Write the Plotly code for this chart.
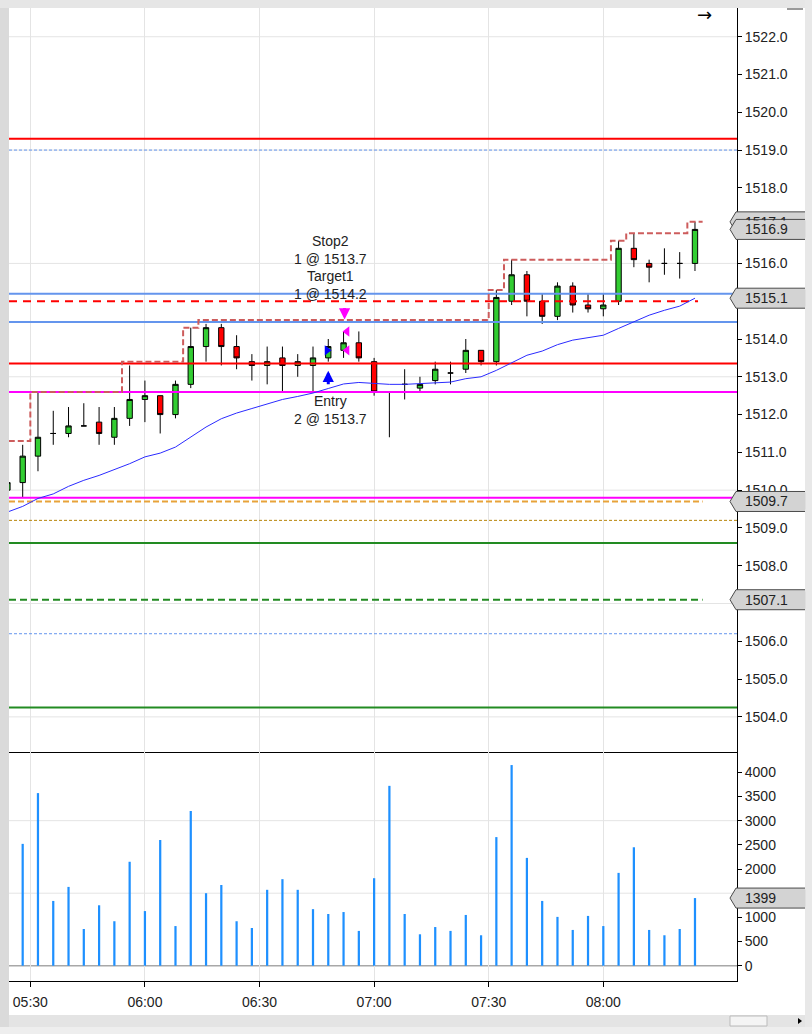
import plotly.graph_objects as go
from plotly.subplots import make_subplots
import pandas as pd

DAY = "2013-01-02 "

# ---------------- data ----------------
bar_times = ["05:24", "05:28", "05:32", "05:36", "05:40", "05:44", "05:48", "05:52", "05:56",
             "06:00", "06:04", "06:08", "06:12", "06:16", "06:20", "06:24", "06:28", "06:32",
             "06:36", "06:40", "06:44", "06:48", "06:52", "06:56", "07:00", "07:04", "07:08",
             "07:12", "07:16", "07:20", "07:24", "07:28", "07:32", "07:36", "07:40", "07:44",
             "07:48", "07:52", "07:56", "08:00", "08:04", "08:08", "08:12", "08:16", "08:20",
             "08:24"]
opens = [1510.0, 1510.2, 1510.9, 1511.5, 1511.5, 1511.7, 1511.8, 1511.4, 1511.9,
         1512.4, 1512.5, 1512.0, 1512.8, 1513.8, 1514.3, 1513.8, 1513.4, 1513.3,
         1513.5, 1513.3, 1513.3, 1513.5, 1513.7, 1513.9, 1513.4, 1512.6, 1512.8,
         1512.7, 1512.9, 1513.1, 1513.2, 1513.7, 1513.4, 1515.0, 1515.7, 1515.0,
         1514.6, 1515.4, 1514.9, 1514.8, 1515.0, 1516.4, 1516.0, 1516.0, 1516.0,
         1516.0]
highs = [1510.3, 1511.2, 1512.6, 1512.1, 1512.2, 1512.3, 1512.2, 1512.2, 1513.3,
         1512.9, 1512.5, 1512.9, 1514.3, 1514.4, 1514.4, 1514.1, 1513.6, 1513.8,
         1513.8, 1513.6, 1513.8, 1514.0, 1514.2, 1514.2, 1513.5, 1512.6, 1513.2,
         1513.0, 1513.4, 1513.4, 1514.0, 1513.7, 1515.3, 1516.1, 1515.8, 1515.2,
         1515.5, 1515.5, 1515.2, 1515.2, 1516.6, 1516.8, 1516.1, 1516.4, 1516.3,
         1517.1]
lows = [1509.8, 1509.8, 1510.5, 1511.2, 1511.4, 1511.7, 1511.2, 1511.2, 1511.7,
        1511.8, 1511.5, 1511.9, 1512.7, 1513.4, 1513.3, 1513.2, 1512.9, 1512.8,
        1512.6, 1513.0, 1512.6, 1513.4, 1513.5, 1513.4, 1512.5, 1511.4, 1512.4,
        1512.6, 1512.8, 1512.8, 1513.1, 1513.3, 1513.3, 1514.9, 1514.6, 1514.4,
        1514.5, 1514.7, 1514.7, 1514.6, 1514.9, 1515.9, 1515.5, 1515.7, 1515.6,
        1515.8]
closes = [1510.2, 1510.9, 1511.4, 1511.5, 1511.7, 1511.7, 1511.5, 1511.9, 1512.4,
          1512.5, 1512.0, 1512.8, 1513.8, 1514.3, 1513.8, 1513.5, 1513.3, 1513.4,
          1513.3, 1513.4, 1513.5, 1513.8, 1513.9, 1513.5, 1512.6, 1512.6, 1512.8,
          1512.8, 1513.2, 1513.1, 1513.7, 1513.4, 1515.1, 1515.7, 1515.0, 1514.6,
          1515.4, 1514.9, 1514.8, 1514.9, 1516.4, 1516.1, 1515.9, 1516.0, 1516.0,
          1516.9]
volumes = [1500, 2520, 3570, 1340, 1630, 760, 1250, 920, 2150,
           1130, 2600, 820, 3200, 1500, 1670, 920, 780, 1570,
           1790, 1570, 1170, 1070, 1110, 720, 1810, 3720, 1070,
           650, 800, 720, 1050, 630, 2660, 4150, 2230, 1340,
           1010, 740, 1030, 820, 1920, 2450, 740, 630, 760,
           1399]
moving_avg = [1509.42, 1509.57, 1509.78, 1509.90, 1510.10, 1510.26, 1510.39, 1510.54, 1510.70,
              1510.88, 1510.98, 1511.14, 1511.40, 1511.67, 1511.89, 1512.04, 1512.16, 1512.29,
              1512.40, 1512.48, 1512.57, 1512.69, 1512.81, 1512.85, 1512.82, 1512.80, 1512.80,
              1512.82, 1512.84, 1512.86, 1512.95, 1513.00, 1513.17, 1513.38, 1513.57, 1513.68,
              1513.85, 1513.97, 1514.04, 1514.10, 1514.28, 1514.45, 1514.63, 1514.76, 1514.87,
              1515.08]
step_high = [1511.3, 1511.3, 1512.6, 1512.6, 1512.6, 1512.6, 1512.6, 1512.6, 1513.4,
             1513.4, 1513.4, 1513.4, 1514.3, 1514.5, 1514.5, 1514.5, 1514.5, 1514.5,
             1514.5, 1514.5, 1514.5, 1514.5, 1514.5, 1514.5, 1514.5, 1514.5, 1514.5,
             1514.5, 1514.5, 1514.5, 1514.5, 1514.5, 1515.3, 1516.1, 1516.1, 1516.1,
             1516.1, 1516.1, 1516.1, 1516.1, 1516.6, 1516.8, 1516.8, 1516.8, 1516.8,
             1517.1]

# horizontal levels
red_levels = [1519.3, 1513.35]
blue_levels = [1515.2, 1514.45]
magenta_levels = [1512.6, 1509.8]
green_levels = [1508.6, 1504.25]
blue_dotted_levels = [1519.0, 1506.2]
gold_dotted_level = 1509.2
red_dashed_level = 1515.0
orange_dashed_level = 1509.7
green_dashed_level = 1507.1

# trade
entry_time = "06:48"
exit_time = "06:52"
entry_qty = 2
entry_price = 1513.7
target_qty = 1
target_price = 1514.2
stop_qty = 1
stop_price = 1513.7

x_tick_labels = ["05:30", "06:00", "06:30", "07:00", "07:30", "08:00"]
price_ticks_step = 1.0
vol_tick_labels = [0, 500, 1000, 1500, 2000, 2500, 3000, 3500, 4000]

# ---------------- helpers ----------------
t = pd.to_datetime([DAY + s for s in bar_times])
half = pd.Timedelta(minutes=2)
x_left = pd.Timestamp(DAY + "05:24:25")
x_right = pd.Timestamp(DAY + "08:35:00")

FONT = "Liberation Sans, Arial, sans-serif"
W, H = 812, 1034
ML, MR, MT, MB = 9, 75, 8, 53
PW = W - ML - MR
PH = H - MT - MB


def PX(px):
    return (px - ML) / PW


def PY(py):
    return (H - MB - py) / PH


fig = make_subplots(rows=2, cols=1, shared_xaxes=True, vertical_spacing=0,
                    row_heights=[744, 229])

# candles
fig.add_trace(go.Candlestick(
    x=t, open=opens, high=highs, low=lows, close=closes,
    increasing=dict(fillcolor="#32CD32", line=dict(color="black", width=1)),
    decreasing=dict(fillcolor="#FF0000", line=dict(color="black", width=1)),
    whiskerwidth=0, hoverinfo="skip", showlegend=False), row=1, col=1)


def hline(level, color, width, dash="solid", end=None):
    fig.add_trace(go.Scatter(
        x=[x_left, end if end is not None else x_right], y=[level, level], mode="lines",
        line=dict(color=color, width=width, dash=dash), hoverinfo="skip",
        showlegend=False), row=1, col=1)


for lv in blue_dotted_levels:
    hline(lv, "#6495ED", 1, "3px,2px")
hline(gold_dotted_level, "#B8860B", 1, "3px,2px")
for lv in green_levels:
    hline(lv, "#228B22", 2)
hline(green_dashed_level, "#228B22", 2, "7px,4px", t[-1] + half)
hline(orange_dashed_level, "#E8A33A", 2, "6px,3px", t[-1] + half)
for lv in magenta_levels:
    hline(lv, "#FF00FF", 2)
for lv in blue_levels:
    hline(lv, "#6495ED", 2)
hline(red_dashed_level, "#FF0000", 2, "8px,6px", t[-1] + pd.Timedelta(seconds=48))
for lv in red_levels:
    hline(lv, "#FF0000", 2)

# stepped trailing high
step_x = list(t - half) + [t[-1] + half]
step_y = step_high + [step_high[-1]]
fig.add_trace(go.Scatter(x=step_x, y=step_y, mode="lines", line_shape="hv",
                         line=dict(color="#CD5C5C", width=2, dash="6px,3px"),
                         hoverinfo="skip", showlegend=False), row=1, col=1)

# moving average
fig.add_trace(go.Scatter(x=t, y=moving_avg, mode="lines",
                         line=dict(color="#2B2BFF", width=1),
                         hoverinfo="skip", showlegend=False), row=1, col=1)

# trade execution markers
te = pd.Timestamp(DAY + entry_time)
tx = pd.Timestamp(DAY + exit_time)
fig.add_trace(go.Scatter(x=[te - pd.Timedelta(seconds=20)], y=[entry_price], mode="markers",
                         marker=dict(symbol="triangle-right", size=9, color="#0000FF"),
                         hoverinfo="skip", showlegend=False), row=1, col=1)
fig.add_trace(go.Scatter(x=[tx + pd.Timedelta(seconds=55)] * 2, y=[target_price, stop_price],
                         mode="markers",
                         marker=dict(symbol="triangle-left", size=9, color="#FF00FF"),
                         hoverinfo="skip", showlegend=False), row=1, col=1)

# volume
fig.add_trace(go.Bar(x=t, y=volumes, width=35000, marker=dict(color="#1E90FF", line_width=0),
                     hoverinfo="skip", showlegend=False), row=2, col=1)

# ---------------- axes ----------------
tick_dates = [pd.Timestamp(DAY + s) for s in x_tick_labels]
fig.update_xaxes(type="date", range=[x_left, x_right], showgrid=True, gridcolor="#E4E4E4",
                 gridwidth=1, tickmode="array", tickvals=tick_dates, ticktext=x_tick_labels,
                 showline=True, linecolor="black", linewidth=1,
                 zeroline=False, rangeslider_visible=False,
                 tickfont=dict(family=FONT, size=14, color="#222"))
fig.update_xaxes(ticks="", showticklabels=False, row=1, col=1)
fig.update_xaxes(ticks="outside", ticklen=5, tickcolor="black", ticklabelstandoff=3,
                 row=2, col=1)

idx_grid = list(range(1504, 1523, 3))
fig.update_yaxes(side="right", range=[1503.07, 1522.76], dtick=price_ticks_step, tick0=1504,
                 tickformat=".1f", ticks="outside", ticklen=4, tickcolor="black",
                 showline=True, linecolor="black", linewidth=1, showgrid=False,
                 zeroline=False, tickfont=dict(family=FONT, size=14, color="#222"),
                 row=1, col=1)
fig.update_yaxes(side="right", range=[-316, 4420], tickvals=vol_tick_labels,
                 ticks="outside", ticklen=4, tickcolor="black",
                 showline=True, linecolor="black", linewidth=1, showgrid=False,
                 zeroline=False, tickfont=dict(family=FONT, size=14, color="#222"),
                 row=2, col=1)

shapes = []
for g in idx_grid:
    shapes.append(dict(type="line", xref="paper", x0=0, x1=1, yref="y", y0=g, y1=g,
                       line=dict(color="#E4E4E4", width=1), layer="below"))
for g in [1500, 3000]:
    shapes.append(dict(type="line", xref="paper", x0=0, x1=1, yref="y2", y0=g, y1=g,
                       line=dict(color="#E4E4E4", width=1), layer="below"))
shapes.append(dict(type="line", xref="paper", x0=0, x1=1, yref="y2", y0=0, y1=0,
                   line=dict(color="#A8A8A8", width=1.5), layer="below"))

annotations = []


def value_label(value, text, yref, bg=True):
    shapes.append(dict(type="path", xref="paper", xsizemode="pixel", xanchor=1,
                       yref=yref, ysizemode="pixel", yanchor=value,
                       path="M -7,0 L -1,10 L 72,10 L 72,-10 L -1,-10 Z",
                       fillcolor="#D3D3D3", line=dict(color="#4A4A4A", width=1),
                       layer="above"))
    annotations.append(dict(x=1, xref="paper", xanchor="left", xshift=7, y=value, yref=yref,
                            yanchor="middle", text=text, showarrow=False, align="left",
                            width=60, height=16, borderpad=0,
                            bgcolor="#D3D3D3" if bg else "rgba(0,0,0,0)",
                            font=dict(family=FONT, size=14, color="#222")))


value_label(step_high[-1], f"{step_high[-1]:.1f}", "y", bg=False)
value_label(closes[-1], f"{closes[-1]:.1f}", "y")
value_label(moving_avg[-1], f"{moving_avg[-1]:.1f}", "y")
value_label(orange_dashed_level, f"{orange_dashed_level:.1f}", "y")
value_label(green_dashed_level, f"{green_dashed_level:.1f}", "y")
value_label(volumes[-1], f"{volumes[-1]}", "y2")

# trade annotations
annotations.append(dict(x=te, y=stop_price, xref="x", yref="y", xshift=2, yshift=81,
                        yanchor="bottom", showarrow=False,
                        text=f"Stop2<br>{stop_qty} @ {stop_price:.1f}",
                        font=dict(family=FONT, size=14, color="#222")))
annotations.append(dict(x=te, y=target_price, xref="x", yref="y", xshift=2, yshift=27,
                        yanchor="bottom", showarrow=False,
                        text=f"Target1<br>{target_qty} @ {target_price:.1f}",
                        font=dict(family=FONT, size=14, color="#222")))
annotations.append(dict(x=te, y=entry_price, xref="x", yref="y", xshift=2, yshift=-41,
                        yanchor="top", showarrow=False,
                        text=f"Entry<br>{entry_qty} @ {entry_price:.1f}",
                        font=dict(family=FONT, size=14, color="#222")))
# arrows
i_e = bar_times.index(entry_time)
i_x = bar_times.index(exit_time)
annotations.append(dict(x=te, y=lows[i_e], xref="x", yref="y", yshift=-9, text="",
                        showarrow=True, arrowhead=2, arrowsize=0.75, arrowwidth=3,
                        arrowcolor="#0000FF", ax=0, ay=15))
annotations.append(dict(x=tx, y=highs[i_x], xref="x", yref="y", xshift=1, yshift=12, text="",
                        showarrow=True, arrowhead=2, arrowsize=0.75, arrowwidth=3,
                        arrowcolor="#FF00FF", ax=0, ay=-13))

# top-right arrow glyph
annotations.append(dict(x=PX(714), y=PY(2), xref="paper", yref="paper", text="→",
                        yanchor="top", showarrow=False,
                        font=dict(family="DejaVu Sans", size=18, color="black")))

# window chrome
chrome = [
    (0, 0, ML, H, "#DADADA"),
    (0, 0, W, MT, "#E6E6E6"),
    (805, 0, W, H, "#E8E8E8"),
    (ML, 1015, 805, 1027, "#E4E4E4"),
    (0, 1027, W, H, "#EEEEEE"),
]
for x0, y0, x1, y1, c in chrome:
    shapes.append(dict(type="rect", xref="paper", yref="paper", x0=PX(x0), x1=PX(x1),
                       y0=PY(y1), y1=PY(y0), fillcolor=c, line_width=0, layer="above"))
shapes.append(dict(type="rect", xref="paper", yref="paper", x0=PX(730), x1=PX(767),
                   y0=PY(1026), y1=PY(1016), fillcolor="#F4F4F4",
                   line=dict(color="#BBBBBB", width=1), layer="above"))
shapes.append(dict(type="path", xref="paper", yref="paper",
                   path=f"M {PX(798)},{PY(1018)} L {PX(802)},{PY(1021)} L {PX(798)},{PY(1024)} Z",
                   fillcolor="black", line_width=0, layer="above"))
shapes.append(dict(type="line", xref="paper", yref="paper", x0=PX(787), x1=PX(803),
                   y0=PY(9), y1=PY(9), line=dict(color="#9A9A9A", width=2), layer="above"))

fig.update_layout(width=W, height=H, margin=dict(l=ML, r=MR, t=MT, b=MB),
                  paper_bgcolor="white", plot_bgcolor="white", showlegend=False,
                  boxgap=0.5, hovermode=False, shapes=shapes, annotations=annotations,
                  font=dict(family=FONT, size=14, color="#222"))

fig.write_html("out.html", config={"displayModeBar": False},
               post_script="document.body.style.margin='0';document.body.style.overflow='hidden';")
